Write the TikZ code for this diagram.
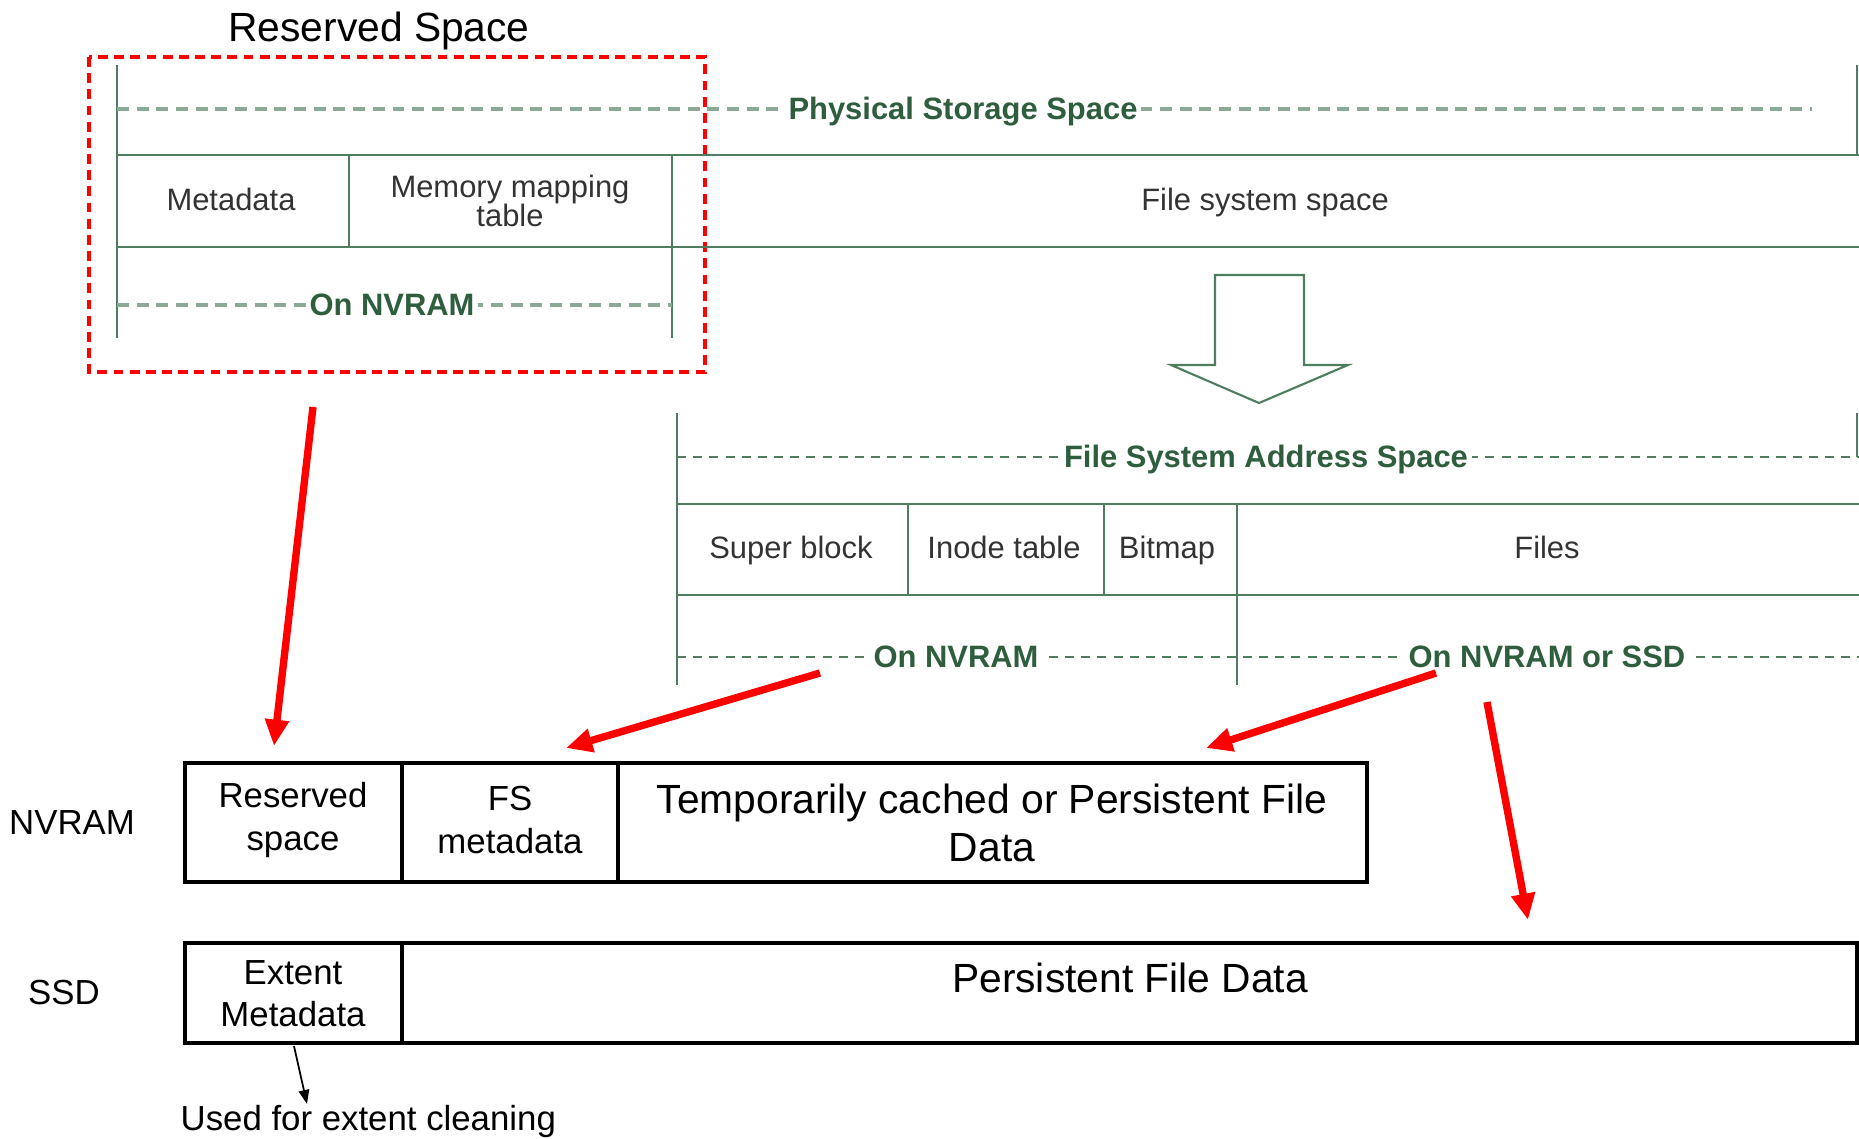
\documentclass[tikz,border=0pt]{standalone}
\usepackage{fontspec}
\setmainfont{Liberation Sans}
\usetikzlibrary{arrows.meta}
\definecolor{fsgreen}{HTML}{2E5E3E}
\definecolor{fsline}{HTML}{4F7D60}
\definecolor{fsdash}{HTML}{8CA897}
\definecolor{fstext}{HTML}{333333}
\definecolor{fsred}{HTML}{FF0000}

\begin{document}
\begin{tikzpicture}[x=0.1mm,y=-0.1mm,
  every node/.style={inner sep=0pt},
  gline/.style={draw=fsline,line width=0.6pt},
  gdash/.style={draw=fsdash,line width=0.9pt,dash pattern=on 3.4pt off 2.2pt},
  gdashdark/.style={draw=fsline,line width=0.6pt,dash pattern=on 2.6pt off 2pt},
  glabel/.style={fill=white,inner sep=1pt,text=fsgreen,text height=6.4pt,text depth=1.8pt,
    yshift=-0.6pt,font=\fontsize{8.8}{9}\selectfont\bfseries},
  gtext/.style={text=fstext,align=center,font=\fontsize{8.8}{8.5}\selectfont},
  gone/.style={gtext,text height=6.4pt,text depth=1.8pt},
  mtext/.style={align=center,font=\fontsize{9.9}{12}\selectfont},
  btext/.style={align=center,font=\fontsize{11.6}{13.8}\selectfont},
  memline/.style={line width=1.35pt},
  redarrow/.style={fsred,line width=2.1pt,-{Triangle[length=7.5pt,width=6.5pt]}}]
\useasboundingbox (0,0) rectangle (1859,1139);
% reserved space
\node[btext] (title) at (379,31) {Reserved Space};
\draw[fsred,line width=1.1pt,dash pattern=on 2.8pt off 1.8pt] (89,57) rectangle (705,372);
% physical storage space
\draw[gline] (117,65) -- (117,338);
\draw[gline] (1857,65) -- (1857,155);
\draw[gdash] (117,109) -- (1812,109);
\node[glabel] (pss) at (963,109) {Physical Storage Space};
\draw[gline] (117,155) -- (1859,155);
\draw[gline] (117,247) -- (1859,247);
\draw[gline] (349,155) -- (349,247);
\draw[gline] (672,155) -- (672,338);
\node[gone] (meta) at (231,202) {Metadata};
\node[gtext] (mmt) at (510,201) {Memory mapping\\table};
\node[gone] (fss) at (1265,202) {File system space};
\draw[gdash] (117,305) -- (672,305);
\node[glabel] (onnv1) at (392,305) {On NVRAM};
% hollow arrow
\draw[gline] (1215,275) -- (1304,275) -- (1304,365) -- (1348,365) -- (1259,403)
  -- (1171,365) -- (1215,365) -- cycle;
% file system address space
\draw[gline] (677,413) -- (677,685);
\draw[gline] (1857,413) -- (1857,457);
\draw[gdashdark] (677,457) -- (1859,457);
\node[glabel] (fsas) at (1266,457) {File System Address Space};
\draw[gline] (677,504) -- (1859,504);
\draw[gline] (677,595) -- (1859,595);
\draw[gline] (908,504) -- (908,595);
\draw[gline] (1104,504) -- (1104,595);
\draw[gline] (1237,504) -- (1237,685);
\node[gone] (sblk) at (791,550) {Super block};
\node[gone] (inode) at (1004,550) {Inode table};
\node[gone] (bmap) at (1167,550) {Bitmap};
\node[gone] (files) at (1547,550) {Files};
\draw[gdashdark] (677,657) -- (1859,657);
\node[glabel] (onnv2) at (956,657) {On NVRAM};
\node[glabel] (onssd) at (1547,657) {On NVRAM or SSD};
% NVRAM and SSD layout
\node[mtext] (nvram) at (72,823) {NVRAM};
\draw[memline] (185,763) rectangle (1367,882);
\draw[memline] (402,763) -- (402,882);
\draw[memline] (618,763) -- (618,882);
\node[mtext] (resv) at (293,820) {Reserved\\space};
\node[mtext] (fsmeta) at (510,820) {FS\\metadata};
\node[btext] (cache) at (992,823) {Temporarily cached or Persistent File\\Data};
\node[mtext] (ssd) at (64,993) {SSD};
\draw[memline] (185,943) rectangle (1857,1043);
\draw[memline] (402,943) -- (402,1043);
\node[mtext] (extmeta) at (293,994) {Extent\\Metadata};
\node[btext] (pfd) at (1130,978) {Persistent File Data};
\node[mtext,anchor=west] (clean) at (180,1121) {Used for extent cleaning};
% arrows
\coordinate (extbot) at (294,1046);
\coordinate (cleantop) at (307,1104);
\draw[line width=0.5pt,-{Triangle[length=4pt,width=3pt]}] (extbot) -- (cleantop);
\coordinate (rs1) at (313,407);
\coordinate (rs2) at (274,746);
\coordinate (fm1) at (820,673);
\coordinate (fm2) at (566,748);
\coordinate (fd1) at (1436,673);
\coordinate (fd2) at (1206,748);
\coordinate (pd1) at (1487,702);
\coordinate (pd2) at (1528,920);
\draw[redarrow] (rs1) -- (rs2);
\draw[redarrow] (fm1) -- (fm2);
\draw[redarrow] (fd1) -- (fd2);
\draw[redarrow] (pd1) -- (pd2);
\end{tikzpicture}
\end{document}
